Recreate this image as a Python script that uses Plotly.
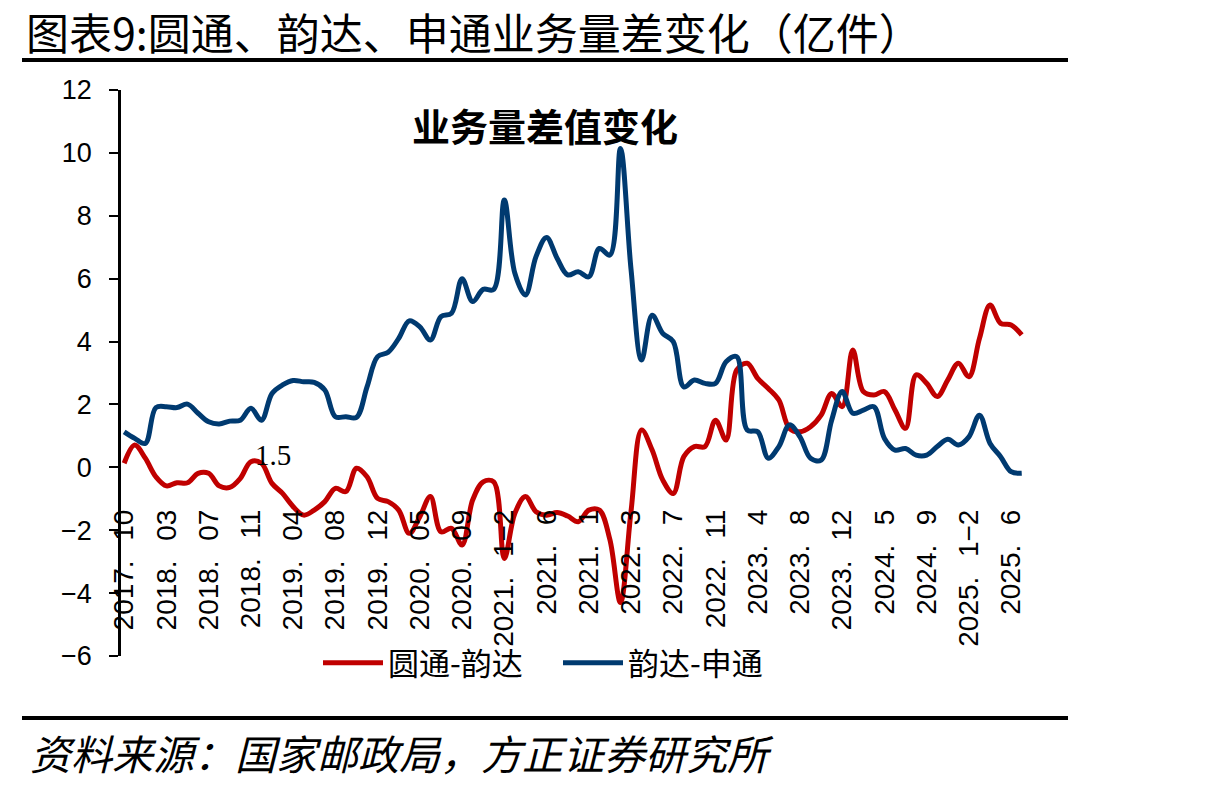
import plotly.graph_objects as go

# ---- categories (monthly, Jan-Feb combined) ----
months = ["2017.10", "2017.11", "2017.12"]
for yr in range(2018, 2025):
    months += [f"{yr}.1-2"] + [f"{yr}.{m}" for m in range(3, 13)]
months += ["2025.1-2", "2025.3", "2025.4", "2025.5", "2025.6", "2025.7"]

# ---- series (亿件) ----
yto_minus_yunda = [
    0.13, 0.71, 0.29, -0.30, -0.59, -0.49, -0.49, -0.19, -0.19, -0.59,
    -0.64, -0.35, 0.18, 0.13, -0.51, -0.83, -1.25, -1.52, -1.36, -1.09,
    -0.67, -0.77, -0.03, -0.30, -0.99, -1.09, -1.36, -2.10, -1.57, -0.93,
    -2.05, -1.94, -2.47, -1.04, -0.46, -0.46, -2.90, -1.46, -0.93, -1.41,
    -1.52, -1.44, -1.55, -1.73, -1.36, -1.36, -2.30, -4.30, -1.40, 1.19,
    0.55, -0.40, -0.83, 0.34, 0.66, 0.66, 1.50, 0.87, 3.09, 3.31,
    2.83, 2.51, 2.14, 1.24, 1.13, 1.29, 1.66, 2.35, 1.93, 3.73,
    2.41, 2.30, 2.41, 1.82, 1.24, 2.94, 2.67, 2.25, 2.78, 3.31,
    2.88, 4.10, 5.16, 4.58, 4.53, 4.21,
]
yunda_minus_sto = [
    1.13, 0.92, 0.76, 1.90, 1.93, 1.90, 2.01, 1.72, 1.45, 1.38,
    1.47, 1.50, 1.88, 1.50, 2.35, 2.62, 2.76, 2.72, 2.70, 2.46,
    1.61, 1.61, 1.59, 2.56, 3.52, 3.66, 4.10, 4.66, 4.47, 4.05,
    4.79, 4.90, 6.00, 5.27, 5.66, 5.66, 8.50, 6.17, 5.48, 6.70,
    7.31, 6.65, 6.12, 6.22, 6.06, 6.96, 6.75, 10.14, 6.30, 3.41,
    4.84, 4.26, 4.00, 2.56, 2.78, 2.67, 2.67, 3.36, 3.52, 1.19,
    1.13, 0.29, 0.66, 1.35, 0.97, 0.29, 0.23, 1.50, 2.41, 1.72,
    1.82, 1.93, 0.92, 0.55, 0.60, 0.39, 0.39, 0.66, 0.89, 0.71,
    0.97, 1.66, 0.76, 0.34, -0.14, -0.19,
]

# ---- tick labels ----
SEP = ".\u2002\u2009"
label_idx = list(range(0, 85, 4))
label_parts = [("2017", "10"), ("2018", "03"), ("2018", "07"), ("2018", "11"), ("2019", "04"),
               ("2019", "08"), ("2019", "12"), ("2020", "05"), ("2020", "09"), ("2021", "1−2"),
               ("2021", "6"), ("2021", "1"), ("2022", "3"), ("2022", "7"), ("2022", "11"),
               ("2023", "4"), ("2023", "8"), ("2023", "12"), ("2024", "5"), ("2024", "9"),
               ("2025", "1−2"), ("2025", "6")]
label_text = [a + SEP + b for a, b in label_parts]
tick_marks = [k + 4.5 for k in range(0, 80, 5)]
y_ticks = list(range(-6, 13, 2))

series_names = ["圆通-韵达", "韵达-申通"]
colors = ["#C00000", "#003A70"]

xpos = list(range(len(months)))

W, H = 1205, 789
L, R, T, B = 121, 1027, 90, 656
pw, ph = R - L, B - T


def px(x):
    return (x - L) / pw


def py(y):
    return (B - y) / ph


fig = go.Figure()
for vals, name, col in zip([yto_minus_yunda, yunda_minus_sto], series_names, colors):
    fig.add_trace(go.Scatter(
        x=xpos, y=vals, name=name, mode="lines",
        line=dict(color=col, width=5, shape="spline", smoothing=1.0),
        customdata=months, hovertemplate="%{customdata}: %{y}<extra></extra>",
    ))

xr = [-0.3, 85.5]
cjk = "Noto Sans CJK SC"
fig.update_layout(
    width=W, height=H,
    margin=dict(l=L, r=W - R, t=T, b=H - B),
    paper_bgcolor="white", plot_bgcolor="white",
    showlegend=True,
    legend=dict(orientation="h", x=px(318), y=py(663), xanchor="left", yanchor="middle",
                font=dict(family=cjk, size=31, color="black"),
                itemwidth=60, entrywidth=165, entrywidthmode="pixels",
                bgcolor="rgba(0,0,0,0)", tracegroupgap=0),
    xaxis=dict(range=xr, anchor="free", position=py(503), tickmode="array",
               tickvals=label_idx, ticktext=label_text, tickangle=-90,
               ticks="", showline=False, showgrid=False, zeroline=False,
               tickfont=dict(family="Liberation Sans", size=28, color="black")),
    xaxis2=dict(range=xr, matches="x", overlaying="x", anchor="free", position=py(467),
                tickmode="array", tickvals=tick_marks, ticks="outside", ticklen=10,
                tickwidth=2, tickcolor="black", showticklabels=False,
                showline=True, linecolor="black", linewidth=2.5, showgrid=False,
                zeroline=False),
    yaxis=dict(range=[-6, 12], tickmode="array", tickvals=y_ticks,
               ticks="outside", ticklen=9, tickwidth=2, tickcolor="black",
               showline=True, linecolor="black", linewidth=2.5, showgrid=False,
               zeroline=False, ticklabelstandoff=12,
               tickfont=dict(family="Liberation Sans", size=27, color="black")),
)

# Title, source, rules
fig.add_annotation(text="图表9:圆通、韵达、申通业务量差变化（亿件）", xref="paper", yref="paper",
                   x=px(24), y=py(31), xanchor="left", yanchor="middle", showarrow=False,
                   font=dict(family=cjk, size=43, color="black"))
fig.add_annotation(text="资料来源：国家邮政局，方正证券研究所", xref="paper", yref="paper",
                   x=px(28), y=py(752), xanchor="left", yanchor="middle", showarrow=False,
                   font=dict(family=cjk, size=41, color="black", style="italic"))
fig.add_annotation(text="业务量差值变化", xref="paper", yref="paper",
                   x=px(545), y=py(124), xanchor="center", yanchor="middle", showarrow=False,
                   font=dict(family=cjk, size=38, color="black", weight="bold"))
fig.add_annotation(text="1.5", xref="paper", yref="paper",
                   x=px(273), y=py(455), xanchor="center", yanchor="middle", showarrow=False,
                   font=dict(family="Liberation Serif", size=29, color="black"))
for yy in (60, 718):
    fig.add_shape(type="line", xref="paper", yref="paper", x0=px(22), x1=px(1068),
                  y0=py(yy), y1=py(yy), line=dict(color="black", width=4))

fig.write_html("out.html")
